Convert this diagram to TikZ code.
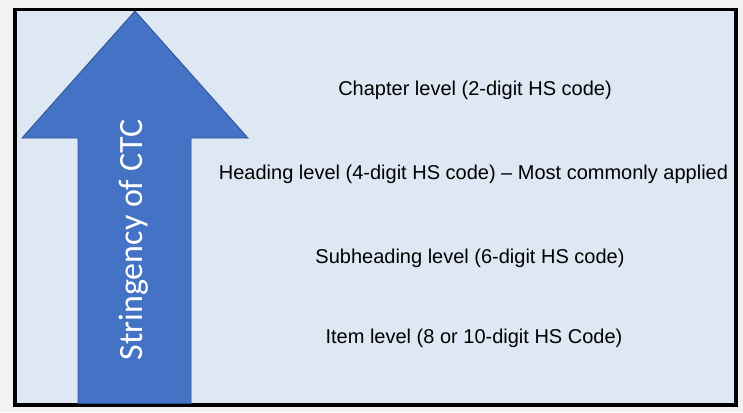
\documentclass[tikz,border=0pt]{standalone}
\usepackage{fontspec}
\setmainfont{Liberation Sans}
\newfontfamily\arrowfont{Carlito}
\definecolor{outerbg}{HTML}{F2F2F2}
\definecolor{boxfill}{HTML}{DEE8F4}
\definecolor{arrowfill}{HTML}{4472C4}
\definecolor{arrowline}{HTML}{2F528F}
\tikzset{
  frame/.style={draw=black, line width=3.2pt, fill=boxfill},
  bigarrow/.style={draw=arrowline, line width=0.8pt, fill=arrowfill},
  level/.style={anchor=base, font=\fontsize{20}{24}\selectfont, text=black, inner sep=0pt},
  arrowlabel/.style={font=\arrowfont\fontsize{34}{40}\selectfont, text=white, rotate=90, inner sep=0pt}
}
\begin{document}
\begin{tikzpicture}[x=1pt,y=-1pt]
  \fill[outerbg] (0,0) rectangle (743,412);
  \useasboundingbox (0,0) rectangle (743,412);
  \draw[frame] (15,9.5) rectangle (736,405);
  \draw[bigarrow] (135,11) -- (248,138) -- (191,138) -- (191,403.5) -- (78,403.5) -- (78,138) -- (22,138) -- cycle;
  \node[arrowlabel] (ctc) at (134,240) {Stringency of CTC};
  \node[level] (chapter) at (475,95) {Chapter level (2-digit HS code)};
  \node[level] (heading) at (473.5,179) {Heading level (4-digit HS code) – Most commonly applied};
  \node[level] (subheading) at (470,263) {Subheading level (6-digit HS code)};
  \node[level] (item) at (474,343) {Item level (8 or 10-digit HS Code)};
\end{tikzpicture}
\end{document}
